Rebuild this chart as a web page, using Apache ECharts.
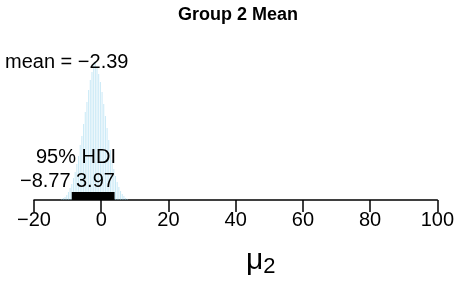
<!DOCTYPE html>
<html>
<head>
<meta charset="utf-8">
<script src="https://cdn.jsdelivr.net/npm/echarts@6/dist/echarts.min.js"></script>
<style>
  html, body { margin: 0; padding: 0; background: #fff; }
  #chart { width: 457px; height: 285px; }
</style>
</head>
<body>
<div id="chart"></div>
<script>
// histogram of posterior samples for mu2 (bin centers, heights)
var binCenters = [-11.75, -11.25, -10.75, -10.25, -9.75, -9.25, -8.75, -8.25, -7.75, -7.25,
                  -6.75, -6.25, -5.75, -5.25, -4.75, -4.25, -3.75, -3.25, -2.75, -2.25,
                  -1.75, -1.25, -0.75, -0.25, 0.25, 0.75, 1.25, 1.75, 2.25, 2.75,
                  3.25, 3.75, 4.25, 4.75, 5.25, 5.75, 6.25, 6.75, 7.25, 7.75];
var binHeights = [1, 2, 3, 5, 8, 12, 16, 22, 28, 36,
                  44, 55, 64, 76, 88, 98, 110, 120, 128, 136,
                  138, 132, 126, 118, 108, 96, 84, 72, 60, 50,
                  40, 31, 24, 18, 13, 9, 6, 4, 2, 1];
var meanValue = -2.39;
var hdi = [-8.77, 3.97];
var xTicks = [-20, 0, 20, 40, 60, 80, 100];

var chart = echarts.init(document.getElementById('chart'));

var histData = [];
for (var i = 0; i < binCenters.length; i++) {
    histData.push([binCenters[i], binHeights[i]]);
}

var fmt = function (v) {
    return v < 0 ? '\u2212' + Math.abs(v).toFixed(2) : v.toFixed(2);
};
var font20 = '20px Liberation Sans, Arial, sans-serif';

var option = {
    animation: false,
    textStyle: { fontFamily: 'Liberation Sans, Arial, sans-serif' },
    grid: { left: 34, right: 19, top: 62, bottom: 85 },
    xAxis: {
        type: 'value',
        min: xTicks[0],
        max: xTicks[xTicks.length - 1],
        interval: 20,
        offset: 2,
        axisLine: { show: true, lineStyle: { color: '#000', width: 1.5 } },
        axisTick: { show: true, length: 12, lineStyle: { color: '#000', width: 1.5 } },
        splitLine: { show: false },
        axisLabel: {
            color: '#000', fontSize: 20, margin: 8,
            formatter: function (v) { return v < 0 ? '\u2212' + Math.abs(v) : String(v); }
        },
        name: '{a|\u03bc}{b|2}',
        nameLocation: 'middle',
        nameGap: 42,
        nameTextStyle: {
            padding: [0, 0, 0, 50],
            rich: {
                a: { fontSize: 30, color: '#000' },
                b: { fontSize: 22, color: '#000', padding: [12, 0, 0, 0] }
            }
        }
    },
    yAxis: {
        type: 'value', min: 0, max: 138, show: false
    },
    series: [
        {
            type: 'bar',
            data: histData,
            barWidth: 1,
            itemStyle: { color: 'rgba(135,206,235,0.45)' }
        },
        {
            type: 'line',
            data: [[hdi[0], 4], [hdi[1], 4]],
            symbol: 'none',
            lineStyle: { color: '#000', width: 8, cap: 'butt' },
            z: 5
        }
    ],
    graphic: [
        {
            type: 'text', left: 178, top: 6, z: 100,
            style: { text: 'Group 2 Mean', font: 'bold 18px Liberation Sans, Arial, sans-serif', fill: '#000' }
        },
        {
            type: 'text', left: 5, top: 52, z: 100,
            style: { text: 'mean = ' + fmt(meanValue), font: font20, fill: '#000' }
        },
        {
            type: 'text', left: 36, top: 147, z: 100,
            style: { text: '95% HDI', font: font20, fill: '#000' }
        },
        {
            type: 'text', left: 20, top: 171, z: 100,
            style: { text: fmt(hdi[0]), font: font20, fill: '#000' }
        },
        {
            type: 'text', left: 76, top: 171, z: 100,
            style: { text: fmt(hdi[1]), font: font20, fill: '#000' }
        }
    ]
};

chart.setOption(option);
</script>
</body>
</html>
